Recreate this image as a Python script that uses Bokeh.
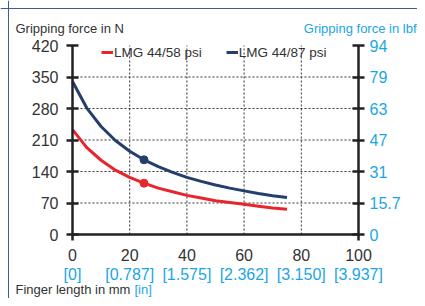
from bokeh.plotting import figure
from bokeh.models import (Range1d, LinearAxis, FixedTicker, Label, Legend, LegendItem, Span)
from bokeh.embed import file_html
from bokeh.resources import INLINE

# ---- data ----
finger_mm = [0, 5, 10, 15, 20, 25, 30, 35, 40, 45, 50, 55, 60, 65, 70, 75]
force_58psi = [233, 193, 165, 143, 127, 114, 103, 95, 87, 81, 75, 71, 67, 63, 59, 56]
force_87psi = [340, 281, 240, 209, 185, 166, 151, 138, 127, 118, 110, 103, 97, 91, 86, 82]
marker_x = [25]
marker_58 = [114]
marker_87 = [166]

y_ticks_n = [0, 70, 140, 210, 280, 350, 420]
y_labels_lbf = ["0", "15.7", "31", "47", "63", "79", "94"]
x_ticks_mm = [0, 20, 40, 60, 80, 100]
x_labels_in = ["[0]", "[0.787]", "[1.575]", "[2.362]", "[3.150]", "[3.937]"]
x_grid = [20, 40, 60, 80]
y_grid = [70, 140, 210, 280, 350]
series_names = ["LMG 44/58 psi", "LMG 44/87 psi"]

# ---- layout (pixels) ----
W, H = 417, 298
PX_X0, PX_X100 = 72, 358      # where x=0 and x=100 sit
PX_Y0, PX_Y420 = 234, 45      # where y=0 and y=420 sit
sx = (PX_X100 - PX_X0) / 100.0
sy = (PX_Y0 - PX_Y420) / 420.0
x_start = -PX_X0 / sx
x_end = x_start + W / sx
y_end = 420 + PX_Y420 / sy
y_start = y_end - H / sy


def px2x(px):
    return x_start + px / sx


def px2y(py):
    return y_end - py / sy


RED = "#e8252c"
BLUE = "#243f6b"
CYAN = "#1aa6e4"
DARK = "#222222"
TXT = "#333333"
FONT = "Liberation Sans"

p = figure(width=W, height=H, output_backend="svg", toolbar_location=None,
           x_range=Range1d(x_start, x_end), y_range=Range1d(y_start, y_end),
           min_border=0, x_axis_location=None, y_axis_location=None)
p.outline_line_color = None
p.background_fill_color = "white"
p.border_fill_color = "white"
p.xgrid.visible = False
p.ygrid.visible = False

# page frame lines
p.add_layout(Span(location=px2x(8), dimension="height", line_color="#3b5e8f", line_width=1))
p.add_layout(Span(location=px2y(8), dimension="width", line_color="#3b5e8f", line_width=1))

# dotted grid
p.segment(x0=x_grid, y0=[0] * len(x_grid), x1=x_grid, y1=[420] * len(x_grid),
          line_color="#333333", line_dash="2 2", line_width=1)
p.segment(x0=[0] * len(y_grid), y0=y_grid, x1=[100] * len(y_grid), y1=y_grid,
          line_color="#333333", line_dash="2 2", line_width=1)

# axes
yl = LinearAxis(ticker=FixedTicker(ticks=y_ticks_n), fixed_location=0, bounds=(-13, 420))
yr = LinearAxis(ticker=FixedTicker(ticks=y_ticks_n), fixed_location=100, bounds=(-13, 420),
                major_label_overrides={t: l for t, l in zip(y_ticks_n, y_labels_lbf)})
xb = LinearAxis(ticker=FixedTicker(ticks=x_ticks_mm), fixed_location=0, bounds=(0, 100))
xb2 = LinearAxis(ticker=FixedTicker(ticks=x_ticks_mm), fixed_location=0, bounds=(0, 100),
                 major_label_overrides={t: l for t, l in zip(x_ticks_mm, x_labels_in)})
for ax in (yl, yr, xb, xb2):
    ax.axis_line_color = DARK
    ax.axis_line_width = 2.5
    ax.major_tick_line_color = DARK
    ax.major_tick_line_width = 2.5
    ax.minor_tick_line_color = None
    ax.major_label_text_font = FONT
    ax.major_label_text_font_size = "16px"
for ax in (yl, yr):
    ax.major_tick_in = 6
    ax.major_tick_out = 6
yl.major_label_standoff = 8
yr.major_label_standoff = 5
yl.major_label_text_color = TXT
yr.major_label_text_color = CYAN
xb.major_tick_in = 0
xb.major_tick_out = 0
xb.major_label_standoff = 14
xb.major_label_text_color = TXT
xb2.axis_line_color = None
xb2.major_tick_line_color = None
xb2.major_tick_in = 0
xb2.major_tick_out = 0
xb2.major_label_standoff = 31
xb2.major_label_text_color = CYAN
p.add_layout(yl, "left")
p.add_layout(yr, "right")
p.add_layout(xb, "below")
p.add_layout(xb2, "below")

r1 = p.line(finger_mm, force_58psi, line_color=RED, line_width=3)
r2 = p.line(finger_mm, force_87psi, line_color=BLUE, line_width=3)
p.scatter(marker_x, marker_58, size=8, color=RED)
p.scatter(marker_x, marker_87, size=8, color=BLUE)

legend = Legend(items=[LegendItem(label=series_names[0], renderers=[r1]),
                       LegendItem(label=series_names[1], renderers=[r2])],
                orientation="horizontal", location=(99, H - 64))
legend.background_fill_alpha = 0
legend.border_line_alpha = 0
legend.label_text_font = FONT
legend.label_text_font_size = "13.5px"
legend.label_text_color = TXT
legend.glyph_width = 12
legend.label_standoff = 1
legend.spacing = 24
legend.margin = 0
legend.padding = 2
p.add_layout(legend, "center")

# titles
TITLE_SIZE = "13px"
p.add_layout(Label(x=px2x(15), y=px2y(28), text="Gripping force in N",
                   text_font=FONT, text_font_size=TITLE_SIZE, text_color=TXT,
                   text_baseline="alphabetic"))
p.add_layout(Label(x=px2x(416), y=px2y(28), text="Gripping force in lbf",
                   text_font=FONT, text_font_size=TITLE_SIZE, text_color=CYAN,
                   text_baseline="alphabetic", text_align="right"))
p.add_layout(Label(x=px2x(15), y=px2y(289), text="Finger length in mm",
                   text_font=FONT, text_font_size=TITLE_SIZE, text_color=TXT,
                   text_baseline="alphabetic"))
p.add_layout(Label(x=px2x(134), y=px2y(289), text="[in]",
                   text_font=FONT, text_font_size=TITLE_SIZE, text_color=CYAN,
                   text_baseline="alphabetic"))

open("out.html", "w").write(file_html(p, INLINE))
